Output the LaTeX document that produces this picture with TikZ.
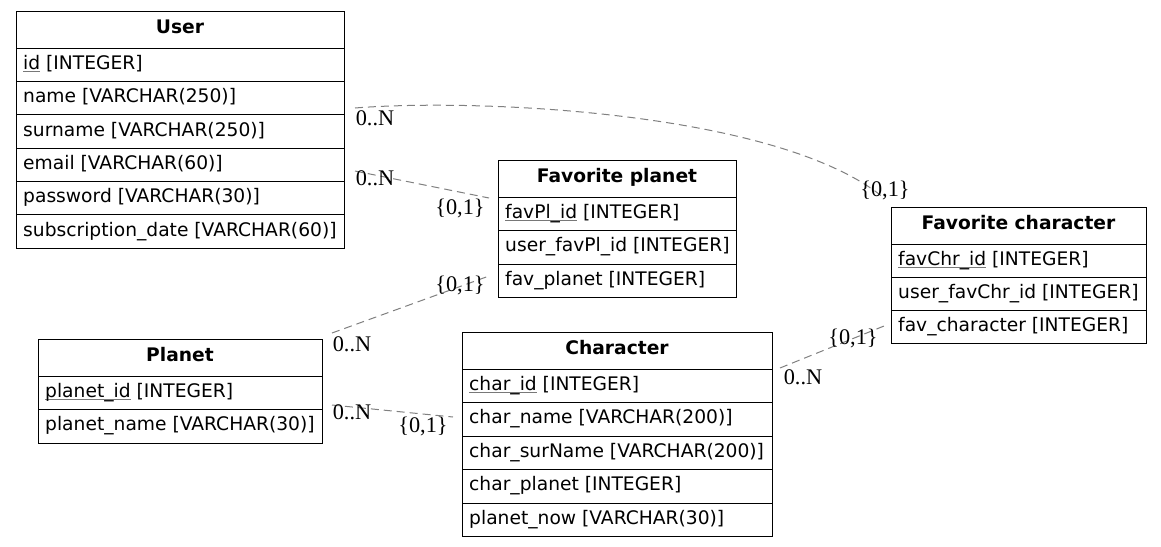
\documentclass[tikz,border=0pt]{standalone}
\usepackage{fontspec}
\setmainfont{DejaVu Sans}
\newfontfamily\lblfont{Liberation Serif}
\definecolor{edgegray}{RGB}{128,128,128}
\definecolor{pkgray}{RGB}{120,120,120}
\newcommand\pk[1]{\setbox0\hbox{#1}\rlap{\color{pkgray}\rule[-2.6pt]{\wd0}{0.9pt}}\box0\relax}
\tikzset{
  cell/.style={draw=black, line width=1pt, rectangle, anchor=north west, inner sep=0pt, outer sep=0pt},
  rowtext/.style={anchor=base west, inner sep=0pt, font=\fontsize{18.67}{20}\selectfont},
  hdrtext/.style={anchor=base, inner sep=0pt, font=\fontsize{18.67}{20}\selectfont\bfseries},
  lbl/.style={inner sep=0pt, font=\fontsize{22.3}{24}\lblfont},
  rel/.style={draw=edgegray, line width=1pt, dash pattern=on 8pt off 5pt}
}
\newcommand\hdr[5]{% name, left, top, width, text
  \node[cell, minimum width=#4pt, minimum height=37pt] (#1) at (#2,#3) {};
  \node[hdrtext] (#1-t) at ([yshift=-22.3pt]#1.north) {#5};
}
\newcommand\fld[6]{% name, left, top, width, height, text
  \node[cell, minimum width=#4pt, minimum height=#5pt] (#1) at (#2,#3) {};
  \node[rowtext] (#1-t) at ([shift={(7pt,-21.4pt)}]#1.north west) {#6};
}
\begin{document}
\begin{tikzpicture}[x=1pt,y=-1pt]
\useasboundingbox[fill=white] (0,0) rectangle (1161,546);
% User
\hdr{user-h}{16}{11}{328}{User}
\fld{user-1}{16}{48}{328}{33.33}{\pk{id} [INTEGER]}
\fld{user-2}{16}{81.33}{328}{33.33}{name [VARCHAR(250)]}
\fld{user-3}{16}{114.67}{328}{33.33}{surname [VARCHAR(250)]}
\fld{user-4}{16}{148}{328}{33.33}{email [VARCHAR(60)]}
\fld{user-5}{16}{181.33}{328}{33.33}{password [VARCHAR(30)]}
\fld{user-6}{16}{214.67}{328}{33.33}{subscription\_date [VARCHAR(60)]}
% Favorite planet
\hdr{fp-h}{498}{160}{238}{Favorite planet}
\fld{fp-1}{498}{197}{238}{33.5}{\pk{favPl\_id} [INTEGER]}
\fld{fp-2}{498}{230.5}{238}{33.5}{user\_favPl\_id [INTEGER]}
\fld{fp-3}{498}{264}{238}{33.5}{fav\_planet [INTEGER]}
% Favorite character
\hdr{fc-h}{891}{207}{255}{Favorite character}
\fld{fc-1}{891}{244}{255}{33.2}{\pk{favChr\_id} [INTEGER]}
\fld{fc-2}{891}{277.2}{255}{33.2}{user\_favChr\_id [INTEGER]}
\fld{fc-3}{891}{310.4}{255}{33.2}{fav\_character [INTEGER]}
% Planet
\hdr{pl-h}{38}{339}{284}{Planet}
\fld{pl-1}{38}{376}{284}{33.5}{\pk{planet\_id} [INTEGER]}
\fld{pl-2}{38}{409.5}{284}{33.5}{planet\_name [VARCHAR(30)]}
% Character
\hdr{ch-h}{462}{332}{310}{Character}
\fld{ch-1}{462}{369}{310}{33.5}{\pk{char\_id} [INTEGER]}
\fld{ch-2}{462}{402.5}{310}{33.5}{char\_name [VARCHAR(200)]}
\fld{ch-3}{462}{436}{310}{33.5}{char\_surName [VARCHAR(200)]}
\fld{ch-4}{462}{469.5}{310}{33.5}{char\_planet [INTEGER]}
\fld{ch-5}{462}{503}{310}{33.5}{planet\_now [VARCHAR(30)]}
% connector end points
\coordinate (e1a) at (355,108);
\coordinate (e1b) at (884,198);
\coordinate (e2a) at (355,171);
\coordinate (e2b) at (489,198);
\coordinate (e3a) at (332,333);
\coordinate (e3b) at (489,276);
\coordinate (e4a) at (332,405);
\coordinate (e4b) at (453,417);
\coordinate (e5a) at (780,368);
\coordinate (e5b) at (884,326);
% connectors
\draw[rel] (e1a) .. controls (480,98) and (780,112) .. (e1b);
\draw[rel] (e2a) -- (e2b);
\draw[rel] (e3a) -- (e3b);
\draw[rel] (e4a) -- (e4b);
\draw[rel] (e5a) -- (e5b);
% labels
\node[lbl] (l1a) at (375,118) {0..N};
\node[lbl] (l1b) at (885,190) {\{0,1\}};
\node[lbl] (l2a) at (375,178) {0..N};
\node[lbl] (l2b) at (460,208) {\{0,1\}};
\node[lbl] (l3a) at (352,344) {0..N};
\node[lbl] (l3b) at (460,285) {\{0,1\}};
\node[lbl] (l4a) at (352,412) {0..N};
\node[lbl] (l4b) at (423,426) {\{0,1\}};
\node[lbl] (l5a) at (803,377) {0..N};
\node[lbl] (l5b) at (853,338) {\{0,1\}};
\end{tikzpicture}
\end{document}
